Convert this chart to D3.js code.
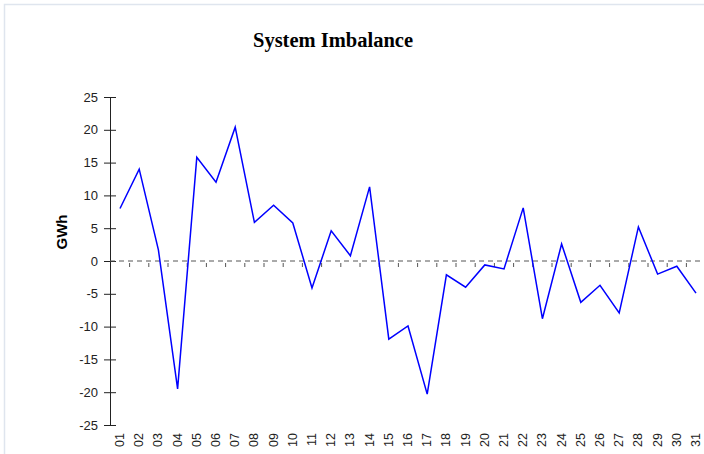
<!DOCTYPE html>
<html>
<head>
<meta charset="utf-8">
<script src="https://cdn.jsdelivr.net/npm/d3@7"></script>
<style>
  body { margin: 0; background: #fff; }
  svg { display: block; }
</style>
</head>
<body>
<div id="chart"></div>
<script>
// days of the month
const days = d3.range(1, 32).map(d => String(d).padStart(2, "0"));

// imbalance per day, GWh
const imbalance = [
  8.0, 14.0, 1.7, -19.5, 15.8, 12.0, 20.4, 5.9, 8.5, 5.8,
  -4.1, 4.6, 0.8, 11.3, -11.9, -9.9, -20.3, -2.1, -4.0, -0.6,
  -1.2, 8.1, -8.8, 2.6, -6.3, -3.7, -7.9, 5.2, -2.0, -0.8, -4.9
];

const yTicks = [-25, -20, -15, -10, -5, 0, 5, 10, 15, 20, 25];

const width = 704, height = 454;
const margin = {top: 97, right: 8, bottom: 29, left: 110};

const svg = d3.select("#chart").append("svg")
  .attr("width", width)
  .attr("height", height);

// faint panel border on the left/top
svg.append("path")
  .attr("d", "M4.5,454 V4.5 H704")
  .attr("fill", "none")
  .attr("stroke", "#dfe5ee")
  .attr("stroke-width", 1.5);

const x = d3.scalePoint()
  .domain(days)
  .range([120, 696]);

const y = d3.scaleLinear()
  .domain([-25, 25])
  .range([height - margin.bottom, margin.top]);

// title
svg.append("text")
  .attr("x", 333)
  .attr("y", 47)
  .attr("text-anchor", "middle")
  .style("font-family", "Liberation Serif, Times New Roman, serif")
  .style("font-weight", "bold")
  .style("font-size", "20.5px")
  .text("System Imbalance");

// y axis label
svg.append("text")
  .attr("transform", "translate(67,232) rotate(-90)")
  .attr("text-anchor", "middle")
  .style("font-family", "Liberation Sans, Arial, sans-serif")
  .style("font-weight", "bold")
  .style("font-size", "15px")
  .text("GWh");

// y axis
const yAxis = svg.append("g")
  .attr("transform", `translate(${margin.left},0)`)
  .call(d3.axisLeft(y).tickValues(yTicks).tickFormat(d => String(d)).tickSize(6).tickPadding(6));

yAxis.select(".domain").attr("stroke", "#222").attr("d", `M0.5,${y(25)}V${y(-25)}`);
yAxis.selectAll(".tick line")
  .attr("x1", -6).attr("x2", 6)
  .attr("stroke", "#222");
yAxis.selectAll(".tick text")
  .style("font-family", "Liberation Sans, Arial, sans-serif")
  .style("font-size", "13px")
  .attr("fill", "#222")
  .attr("x", -12);

// zero line
svg.append("line")
  .attr("x1", margin.left).attr("x2", width)
  .attr("y1", y(0)).attr("y2", y(0))
  .attr("stroke", "#555")
  .attr("stroke-dasharray", "5,4");

// small ticks between days along the zero line
const step = x.step();
svg.append("g").selectAll("line")
  .data(days.slice(0, -1))
  .enter().append("line")
  .attr("x1", d => x(d) + step / 2)
  .attr("x2", d => x(d) + step / 2)
  .attr("y1", y(0) + 2)
  .attr("y2", y(0) + 6)
  .attr("stroke", "#555");

// x labels, rotated
svg.append("g").selectAll("text")
  .data(days)
  .enter().append("text")
  .attr("transform", d => `translate(${x(d) + 4},433) rotate(-90)`)
  .attr("text-anchor", "end")
  .style("font-family", "Liberation Sans, Arial, sans-serif")
  .style("font-size", "12.5px")
  .attr("fill", "#222")
  .text(d => d);

// line
const line = d3.line()
  .x((d, i) => x(days[i]))
  .y(d => y(d));

svg.append("path")
  .datum(imbalance)
  .attr("fill", "none")
  .attr("stroke", "#0000ff")
  .attr("stroke-width", 1.5)
  .attr("d", line);
</script>
</body>
</html>
